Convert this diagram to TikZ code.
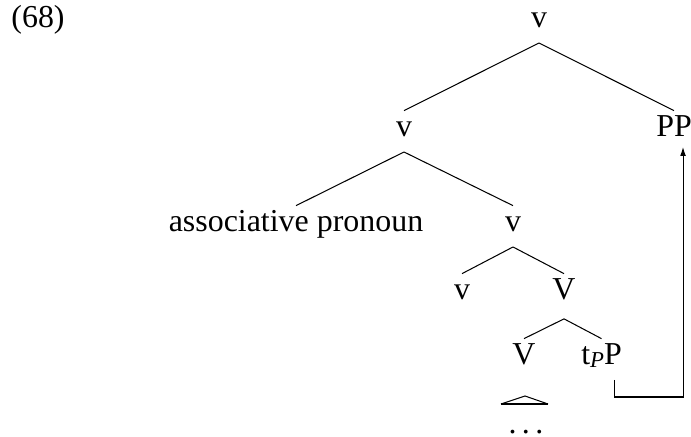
\documentclass[tikz,border=0pt]{standalone}
\usepackage{fontspec}
\setmainfont{Liberation Serif}
\usetikzlibrary{calc,arrows.meta}
\begin{document}
\begin{tikzpicture}[x=0.387pt,y=-0.387pt,
  lbl/.style={anchor=base,inner sep=0pt,outer sep=0pt,text height=10.2pt,text depth=5.8pt,font=\fontsize{12.35}{14}\selectfont},
  branch/.style={line width=0.4pt},
  mv/.style={line width=0.4pt,-{Latex[length=3.4pt,width=2.2pt]}}]
\useasboundingbox (0,0) rectangle (691,437);
% example number
\node[lbl] (ex) at (38,28) {(68)};
% tree nodes
\node[lbl] (n0) at (539,28) {v};
\node[lbl] (n1) at (404,137) {v};
\node[lbl] (pp) at (674,137) {PP};
\node[lbl] (ap) at (296,232) {associative pronoun};
\node[lbl] (n2) at (513,232) {v};
\node[lbl] (n3) at (462,300) {v};
\node[lbl] (n4) at (564,300) {V};
\node[lbl] (n5) at (524,365) {V};
\node[lbl] (tp) at (601.5,365) {t\raisebox{-0.8pt}{\fontsize{8.8}{10}\selectfont\itshape P}P};
\node[lbl,text height=3pt,text depth=0pt] (dots) at (526,433) {.\kern0.17em.\kern0.17em.};
% branches
\draw[branch] (n0.south) -- (n1.north);
\draw[branch] (n0.south) -- (pp.north);
\draw[branch] (n1.south) -- (ap.north);
\draw[branch] (n1.south) -- (n2.north);
\draw[branch] (n2.south) -- (n3.north);
\draw[branch] (n2.south) -- (n4.north);
\draw[branch] ([yshift=-1.5pt]n4.south) -- (n5.north);
\draw[branch] ([yshift=-1.5pt]n4.south) -- (tp.north);
% roof over the elided material
\coordinate (apex) at ($(n5.base)+(1,31)$);
\coordinate (bl) at ($(apex)+(-24,8)$);
\coordinate (br) at ($(apex)+(23,8)$);
\draw[branch] (bl) -- (apex) -- (br);
\draw[line width=0.8pt] (bl) -- (br);
% movement of the PP
\coordinate (foot) at ($(tp.south east)+(-7,0)$);
\draw[mv] (foot) -- ++(0,17) -| ($(pp.south)+(9,-5)$);
\end{tikzpicture}
\end{document}
